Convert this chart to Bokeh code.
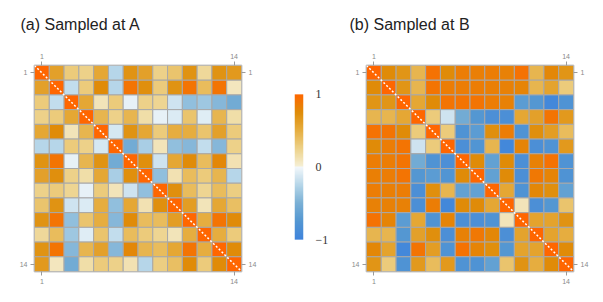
import numpy as np
from bokeh.plotting import figure
from bokeh.layouts import row
from bokeh.models import (LinearColorMapper, FixedTicker, LinearAxis, ColumnDataSource,
                          Range1d, Title)
from bokeh.embed import file_html
from bokeh.resources import INLINE

# ---------------- data ----------------
n_vars = 14
tick_positions = [1, 14]
tick_labels = ["1", "14"]
title_a = "(a) Sampled at A"
title_b = "(b) Sampled at B"

corr_a = [
    [1.00, 0.60, 0.30, 0.25, 0.55, -0.25, 0.70, 0.60, 0.25, 0.35, 0.70, 0.20, 0.70, 0.65],
    [0.60, 1.00, -0.20, 0.30, 0.75, -0.25, 0.90, 0.72, 0.30, 0.70, 0.90, 0.40, 0.90, 0.08],
    [0.30, -0.20, 1.00, 0.55, 0.10, 0.30, -0.05, 0.25, 0.22, -0.15, -0.40, -0.35, -0.45, -0.55],
    [0.25, 0.30, 0.55, 1.00, 0.45, 0.25, 0.45, 0.15, -0.05, -0.10, 0.35, -0.08, 0.45, 0.15],
    [0.55, 0.75, 0.10, 0.45, 1.00, -0.12, 0.70, 0.55, 0.30, 0.50, 0.50, 0.35, 0.60, 0.30],
    [-0.25, -0.25, 0.30, 0.25, -0.12, 1.00, -0.55, -0.30, 0.10, -0.40, -0.45, -0.20, -0.45, 0.25],
    [0.70, 0.90, -0.05, 0.45, 0.70, -0.55, 1.00, 0.72, -0.15, 0.55, 0.75, 0.40, 0.78, 0.12],
    [0.60, 0.72, 0.25, 0.15, 0.55, -0.30, 0.72, 1.00, -0.40, 0.12, 0.40, 0.30, 0.45, -0.25],
    [0.25, 0.30, 0.22, -0.05, 0.30, 0.10, -0.15, -0.40, 1.00, 0.72, 0.40, 0.22, 0.40, 0.28],
    [0.35, 0.70, -0.15, -0.10, 0.50, -0.40, 0.55, 0.12, 0.72, 1.00, 0.62, 0.10, 0.55, 0.38],
    [0.70, 0.90, -0.40, 0.35, 0.50, -0.45, 0.75, 0.40, 0.40, 0.62, 1.00, 0.50, 0.90, 0.75],
    [0.20, 0.40, -0.35, -0.08, 0.35, -0.20, 0.40, 0.30, 0.22, 0.10, 0.50, 1.00, 0.50, 0.30],
    [0.70, 0.90, -0.45, 0.45, 0.60, -0.45, 0.78, 0.45, 0.40, 0.55, 0.90, 0.50, 1.00, 0.75],
    [0.65, 0.08, -0.55, 0.15, 0.30, 0.25, 0.12, -0.25, 0.28, 0.38, 0.75, 0.30, 0.75, 1.00],
]

corr_b = [
    [1.00, 0.75, 0.68, 0.45, 0.92, 0.75, 0.85, 0.83, 0.85, 0.82, 0.92, 0.45, 0.78, 0.68],
    [0.75, 1.00, 0.68, 0.45, 0.90, 0.85, 0.85, 0.85, 0.83, 0.82, 0.80, 0.45, 0.58, 0.30],
    [0.68, 0.68, 1.00, 0.55, 0.75, 0.90, 0.90, 0.90, 0.85, 0.82, -0.70, -0.75, -0.95, -0.80],
    [0.45, 0.45, 0.55, 1.00, 0.30, -0.15, -0.55, -0.75, -0.85, -0.85, 0.55, 0.60, 0.90, 0.65],
    [0.92, 0.90, 0.75, 0.30, 1.00, 0.30, -0.80, -0.70, 0.72, 0.85, -0.80, 0.72, 0.62, 0.40],
    [0.75, 0.85, 0.90, -0.15, 0.30, 1.00, -0.85, -0.78, 0.45, -0.95, 0.80, -0.85, -0.80, 0.65],
    [0.85, 0.85, 0.90, -0.55, -0.80, -0.85, 1.00, 0.75, -0.65, 0.75, -0.85, 0.82, 0.92, -0.80],
    [0.83, 0.85, 0.90, -0.75, -0.70, -0.78, 0.75, 1.00, -0.65, 0.75, -0.85, 0.88, 0.80, -0.80],
    [0.85, 0.83, 0.85, -0.85, 0.72, 0.45, -0.65, -0.65, 1.00, 0.55, -0.80, 0.78, 0.72, -0.65],
    [0.82, 0.82, 0.82, -0.85, 0.85, -0.95, 0.75, 0.75, 0.55, 1.00, 0.10, -0.85, -0.75, 0.35],
    [0.92, 0.80, -0.70, 0.55, -0.80, 0.80, -0.85, -0.85, -0.80, 0.10, 1.00, 0.58, 0.58, 0.70],
    [0.45, 0.45, -0.75, 0.60, 0.72, -0.85, 0.82, 0.88, 0.78, -0.85, 0.58, 1.00, 0.58, 0.50],
    [0.78, 0.58, -0.95, 0.90, 0.62, -0.80, 0.92, 0.80, 0.72, -0.75, 0.58, 0.58, 1.00, 0.75],
    [0.68, 0.30, -0.80, 0.65, 0.40, 0.65, -0.80, -0.80, -0.65, 0.35, 0.70, 0.50, 0.75, 1.00],
]

colorbar_ticks = [-1, 0, 1]
colorbar_labels = ["\u22121", "0", "1"]

# ---------------- colour scheme ----------------
scale_values = [-1.0, -0.75, -0.5, -0.25, -0.001, 0.0, 0.25, 0.5, 0.75, 1.0]
scale_colors = ["#3F84DC", "#5497D2", "#7AB0D5", "#B5D6E9", "#F4F8FB",
                "#F6F0D8", "#EDD28A", "#E6AE40", "#DF8C08", "#FF6600"]


def hex_to_rgb(h):
    h = h.lstrip("#")
    return [int(h[i:i + 2], 16) for i in (0, 2, 4)]


rgb = np.array([hex_to_rgb(c) for c in scale_colors], dtype=float)
grid = np.linspace(-1, 1, 256)
palette = []
for g in grid:
    r = np.interp(g, scale_values, rgb[:, 0])
    gg = np.interp(g, scale_values, rgb[:, 1])
    b = np.interp(g, scale_values, rgb[:, 2])
    palette.append("#%02x%02x%02x" % (int(round(r)), int(round(gg)), int(round(b))))

mapper = LinearColorMapper(palette=palette, low=-1, high=1)

TICK_FONT = "Liberation Sans"
FIG_H = 294
BORDER_TOP = 64
BORDER_BOTTOM = 23
FRAME_H = FIG_H - BORDER_TOP - BORDER_BOTTOM


def style_axis(ax):
    ax.ticker = FixedTicker(ticks=[t - 0.5 for t in tick_positions])
    ax.major_label_overrides = {t - 0.5: lab for t, lab in zip(tick_positions, tick_labels)}
    ax.axis_line_color = None
    ax.minor_tick_line_color = None
    ax.major_tick_in = 0
    ax.major_tick_out = 4
    ax.major_tick_line_color = "#9a9a9a"
    ax.major_label_text_font = TICK_FONT
    ax.major_label_text_font_size = "7px"
    ax.major_label_text_color = "#8a8a8a"
    ax.major_label_standoff = 3


def matrix_figure(mat, title, width, left, right, offset):
    p = figure(width=width, height=FIG_H, output_backend="svg", toolbar_location=None,
               x_range=Range1d(0, n_vars), y_range=Range1d(n_vars, 0),
               min_border_left=left, min_border_right=right,
               min_border_top=BORDER_TOP, min_border_bottom=BORDER_BOTTOM)
    p.title = Title(text=title, text_font="Liberation Sans", text_font_size="16px",
                    text_font_style="normal", text_color="#222222", offset=offset,
                    standoff=31, vertical_align="top")
    xs, ys, vs = [], [], []
    for i in range(n_vars):
        for j in range(n_vars):
            xs.append(j + 0.5)
            ys.append(i + 0.5)
            vs.append(mat[i][j])
    src = ColumnDataSource(dict(x=xs, y=ys, v=vs))
    p.rect(x="x", y="y", width=1, height=1, source=src,
           fill_color={"field": "v", "transform": mapper},
           line_color="#a8a8a8", line_width=1)
    p.line(x=[0, n_vars], y=[0, n_vars], line_color="white", line_width=1.5,
           line_dash="2 2")
    p.add_layout(LinearAxis(), "above")
    p.add_layout(LinearAxis(), "right")
    for ax in p.axis:
        style_axis(ax)
    p.grid.visible = False
    p.outline_line_color = "#c8c8c8"
    p.outline_line_width = 2
    p.background_fill_color = "white"
    p.border_fill_color = "white"
    return p


pa = matrix_figure(corr_a, title_a, 270, 34, 29, -14)
pb = matrix_figure(corr_b, title_b, 255, 26, 22, -17)

# ---------------- colour bar ----------------
# bar occupies pixels 29 .. FRAME_H-32 of the shared frame height
bar_top_px, bar_bot_px = 29, 32
bar_px = FRAME_H - bar_top_px - bar_bot_px
unit = 2.0 / bar_px
pc = figure(width=70, height=FIG_H, output_backend="svg", toolbar_location=None,
            x_range=Range1d(0, 1),
            y_range=Range1d(-1 - bar_bot_px * unit, 1 + bar_top_px * unit),
            min_border_left=24, min_border_right=37,
            min_border_top=BORDER_TOP, min_border_bottom=BORDER_BOTTOM)
bar = np.linspace(-1, 1, 256).reshape(256, 1)
pc.image(image=[bar], x=0, y=-1, dw=1, dh=2, color_mapper=mapper)
pc.xaxis.visible = False
pc.yaxis.visible = False
cax = LinearAxis(ticker=FixedTicker(ticks=colorbar_ticks),
                 major_label_overrides={t: lab for t, lab in zip(colorbar_ticks, colorbar_labels)})
cax.axis_line_color = None
cax.major_tick_line_color = None
cax.minor_tick_line_color = None
cax.major_label_text_font = "Liberation Serif"
cax.major_label_text_font_size = "12px"
cax.major_label_text_color = "#333333"
cax.major_label_standoff = 6
pc.add_layout(cax, "right")
pc.grid.visible = False
pc.outline_line_color = None
pc.border_fill_color = "white"

layout = row(pa, pc, pb)
open("out.html", "w").write(file_html(layout, INLINE))
